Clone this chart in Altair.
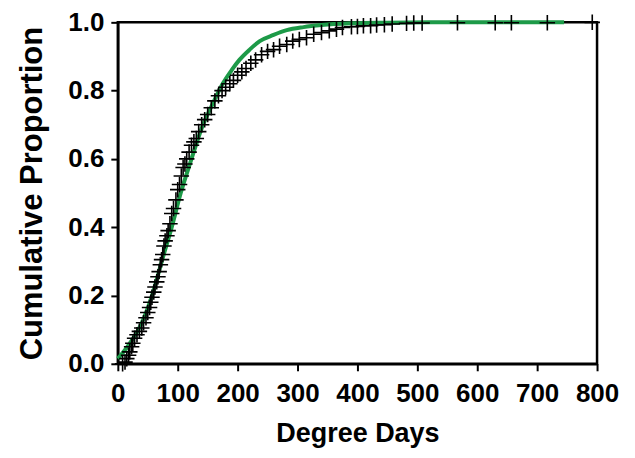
import altair as alt
import pandas as pd

# Observed cumulative proportions (crosses)
obs_dd = [8, 12, 15, 18, 20, 23, 25, 28, 32, 36, 40, 43, 47, 50, 53, 55, 57, 60,
          62, 65, 67, 69, 71, 73, 75, 77, 79, 82, 84, 87, 90, 93, 97, 100, 103,
          106, 109, 112, 115, 119, 123, 127, 131, 135, 140, 145, 150, 156, 162,
          168, 174, 180, 187, 193, 200, 207, 214, 222, 230, 240, 250, 260, 270,
          282, 292, 303, 315, 327, 340, 353, 365, 375, 390, 400, 410, 422, 432,
          445, 458, 482, 494, 508, 567, 630, 657, 717, 792]
obs_prop = [0.0, 0.005, 0.015, 0.025, 0.035, 0.05, 0.06, 0.075, 0.085, 0.095,
            0.105, 0.12, 0.135, 0.15, 0.165, 0.18, 0.195, 0.21, 0.225, 0.24,
            0.255, 0.27, 0.29, 0.305, 0.32, 0.345, 0.36, 0.375, 0.39, 0.41,
            0.44, 0.455, 0.48, 0.51, 0.525, 0.55, 0.575, 0.585, 0.60, 0.62,
            0.64, 0.65, 0.66, 0.68, 0.70, 0.715, 0.73, 0.75, 0.77, 0.785, 0.80,
            0.81, 0.82, 0.83, 0.845, 0.855, 0.865, 0.88, 0.89, 0.905, 0.915,
            0.92, 0.93, 0.935, 0.945, 0.95, 0.955, 0.965, 0.97, 0.975, 0.98,
            0.985, 0.987, 0.988, 0.99, 0.99, 0.992, 0.993, 0.995, 0.997, 0.998,
            0.998, 0.999, 0.999, 0.999, 0.999, 1.0]

# Fitted cumulative curve (green)
fit_dd = [0, 20, 40, 58, 75, 90, 105, 123, 140, 158, 175, 190, 203, 220, 237,
          260, 282, 310, 340, 390, 450, 520, 600, 745]
fit_prop = [0.015, 0.06, 0.12, 0.205, 0.31, 0.40, 0.50, 0.60, 0.69, 0.76, 0.82,
            0.86, 0.89, 0.92, 0.945, 0.963, 0.977, 0.986, 0.992, 0.997, 0.999,
            1.0, 1.0, 1.0]

x_ticks = [0, 100, 200, 300, 400, 500, 600, 700, 800]
y_ticks = [0.0, 0.2, 0.4, 0.6, 0.8, 1.0]

obs = pd.DataFrame({"dd": obs_dd, "prop": obs_prop})
fit = pd.DataFrame({"dd": fit_dd, "prop": fit_prop})

FONT = "Liberation Sans"

xs = alt.Scale(domain=[0, 800], nice=False, zero=False)
ys = alt.Scale(domain=[0, 1], nice=False, zero=False)

x_axis = alt.Axis(title="Degree Days", values=x_ticks, format="d", grid=False,
                  domainColor="black", domainWidth=2.5, tickColor="black",
                  tickWidth=2, tickSize=7, labelFont=FONT, labelFontSize=26,
                  labelFontWeight="bold", labelColor="black", labelPadding=10,
                  titleFont=FONT, titleFontSize=27, titleFontWeight="bold",
                  titleColor="black", titlePadding=14, labelFlush=False)
y_axis = alt.Axis(title="Cumulative Proportion", values=y_ticks, format=".1f",
                  grid=False, domainColor="black", domainWidth=2.5,
                  tickColor="black", tickWidth=2, tickSize=7, labelFont=FONT,
                  labelFontSize=26, labelFontWeight="bold", labelColor="black",
                  labelPadding=7, titleFont=FONT, titleFontSize=31,
                  titleFontWeight="bold", titleColor="black", titlePadding=19,
                  labelFlush=False)

line = alt.Chart(fit).mark_line(color="#1d9a48", strokeWidth=4,
                                interpolate="monotone").encode(
    x=alt.X("dd:Q", scale=xs, axis=x_axis),
    y=alt.Y("prop:Q", scale=ys, axis=y_axis),
)

pts = alt.Chart(obs).mark_point(
    shape="M-1,0L1,0M0,-1L0,1", size=240, filled=False, color="black",
    strokeWidth=1.6, opacity=1,
).encode(
    x=alt.X("dd:Q", scale=xs),
    y=alt.Y("prop:Q", scale=ys),
)

chart = alt.layer(line, pts).properties(
    width=480, height=342, autosize="none",
    padding={"left": 110, "top": 14, "right": 30, "bottom": 88},
).configure(
    background="white",
    view=alt.ViewConfig(stroke="black", strokeWidth=2.5),
)

chart.save("out.html", embed_options={"renderer": "svg", "actions": False})
